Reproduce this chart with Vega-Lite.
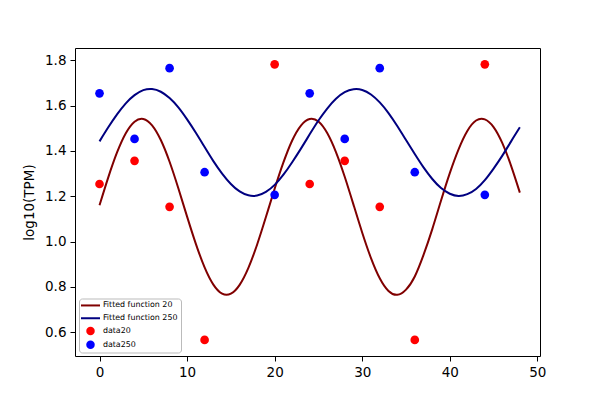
{
  "$schema": "https://vega.github.io/schema/vega-lite/v6.json",
  "width": 465,
  "height": 308,
  "autosize": {"type": "none"},
  "padding": {"left": 75, "top": 48, "right": 60, "bottom": 44},
  "background": "white",
  "config": {
    "view": {"stroke": "black", "strokeWidth": 1},
    "font": "DejaVu Sans",
    "axis": {
      "domain": false,
      "grid": false,
      "tickColor": "black",
      "tickSize": 5,
      "tickWidth": 1,
      "labelColor": "black",
      "labelFont": "DejaVu Sans",
      "labelFontSize": 13.5,
      "labelPadding": 4,
      "titleFont": "DejaVu Sans",
      "titleFontSize": 13.5,
      "titleFontWeight": "normal",
      "titleColor": "black"
    }
  },
  "datasets": {
    "curves": [
      {"x":0,"f20":1.160,"f250":1.442},{"x":1,"f20":1.283,"f250":1.504},{"x":2,"f20":1.393,"f250":1.561},{"x":3,"f20":1.478,"f250":1.610},{"x":4,"f20":1.529,"f250":1.646},{"x":5,"f20":1.541,"f250":1.668},{"x":6,"f20":1.513,"f250":1.673},{"x":7,"f20":1.448,"f250":1.661},{"x":8,"f20":1.352,"f250":1.633},{"x":9,"f20":1.235,"f250":1.592},{"x":10,"f20":1.110,"f250":1.539},{"x":11,"f20":0.990,"f250":1.480},{"x":12,"f20":0.886,"f250":1.417},{"x":13,"f20":0.810,"f250":1.355},{"x":14,"f20":0.770,"f250":1.300},{"x":15,"f20":0.770,"f250":1.254},{"x":16,"f20":0.809,"f250":1.221},{"x":17,"f20":0.884,"f250":1.204},{"x":18,"f20":0.987,"f250":1.203},{"x":19,"f20":1.108,"f250":1.219},{"x":20,"f20":1.233,"f250":1.250},{"x":21,"f20":1.349,"f250":1.295},{"x":22,"f20":1.446,"f250":1.350},{"x":23,"f20":1.512,"f250":1.410},{"x":24,"f20":1.541,"f250":1.473},{"x":25,"f20":1.530,"f250":1.534},{"x":26,"f20":1.479,"f250":1.587},{"x":27,"f20":1.395,"f250":1.630},{"x":28,"f20":1.286,"f250":1.659},{"x":29,"f20":1.163,"f250":1.672},{"x":30,"f20":1.039,"f250":1.669},{"x":31,"f20":0.927,"f250":1.649},{"x":32,"f20":0.838,"f250":1.614},{"x":33,"f20":0.782,"f250":1.567},{"x":34,"f20":0.765,"f250":1.510},{"x":35,"f20":0.788,"f250":1.448},{"x":36,"f20":0.846,"f250":1.386},{"x":37,"f20":0.941,"f250":1.327},{"x":38,"f20":1.055,"f250":1.276},{"x":39,"f20":1.181,"f250":1.236},{"x":40,"f20":1.302,"f250":1.211},{"x":41,"f20":1.407,"f250":1.201},{"x":42,"f20":1.488,"f250":1.209},{"x":43,"f20":1.534,"f250":1.232},{"x":44,"f20":1.539,"f250":1.271},{"x":45,"f20":1.505,"f250":1.322},{"x":46,"f20":1.434,"f250":1.379},{"x":47,"f20":1.334,"f250":1.442},{"x":48,"f20":1.216,"f250":1.504}
    ],
    "points": [
      {"x":0,"data20":1.254,"data250":1.654},
      {"x":4,"data20":1.356,"data250":1.453},
      {"x":8,"data20":1.153,"data250":1.765},
      {"x":12,"data20":0.566,"data250":1.306},
      {"x":20,"data20":1.782,"data250":1.206},
      {"x":24,"data20":1.254,"data250":1.654},
      {"x":28,"data20":1.356,"data250":1.453},
      {"x":32,"data20":1.153,"data250":1.765},
      {"x":36,"data20":0.566,"data250":1.306},
      {"x":44,"data20":1.782,"data250":1.206}
    ]
  },
  "encoding": {
    "x": {"field": "x", "type": "quantitative", "scale": {"domain": [-2.8, 50.3], "nice": false, "zero": false}, "axis": {"values": [0,10,20,30,40,50], "format": "d", "title": null}},
    "y": {"field": "y", "type": "quantitative", "scale": {"domain": [0.495, 1.854], "nice": false, "zero": false}, "axis": {"values": [0.6,0.8,1.0,1.2,1.4,1.6,1.8], "format": ".1f", "title": "log10(TPM)", "titlePadding": 8}},
    "color": {"field": "series", "type": "nominal", "scale": {"domain": ["f20","f250","data20","data250"], "range": ["#800000","#000080","#ff0000","#0000ff"]},
      "legend": {
        "orient": "none", "legendX": 4, "legendY": 250.5, "title": null,
        "labelExpr": "datum.value === 'f20' ? 'Fitted function 20' : datum.value === 'f250' ? 'Fitted function 250' : datum.value",
        "labelFont": "DejaVu Sans", "labelFontSize": 7.9, "labelColor": "black",
        "symbolSize": 81, "symbolStrokeWidth": 0, "rowPadding": 3.8, "padding": 3,
        "strokeColor": "#bbbbbb", "fillColor": "rgba(255,255,255,0.8)", "cornerRadius": 3,
        "labelOffset": 13,
        "encode": {"symbols": {"update": {
          "x": {"value": 8.5},
          "shape": {"signal": "(datum.value === 'f20' || datum.value === 'f250') ? 'stroke' : 'circle'"},
          "size": {"signal": "(datum.value === 'f20' || datum.value === 'f250') ? 361 : 72"},
          "fill": {"signal": "datum.value === 'data20' ? '#ff0000' : datum.value === 'data250' ? '#0000ff' : 'transparent'"},
          "stroke": {"signal": "datum.value === 'f20' ? '#800000' : datum.value === 'f250' ? '#000080' : 'transparent'"},
          "strokeWidth": {"signal": "(datum.value === 'f20' || datum.value === 'f250') ? 2 : 0"},
          "opacity": {"value": 1}
        }}}
      }
    }
  },
  "layer": [
    {
      "data": {"name": "curves"},
      "transform": [
        {"fold": ["f20", "f250"], "as": ["series", "y"]}
      ],
      "mark": {"type": "line", "strokeWidth": 2, "interpolate": "natural"}
    },
    {
      "data": {"name": "points"},
      "transform": [
        {"fold": ["data20", "data250"], "as": ["series", "y"]}
      ],
      "mark": {"type": "point", "filled": true, "shape": "circle", "size": 75, "opacity": 1}
    }
  ]
}
